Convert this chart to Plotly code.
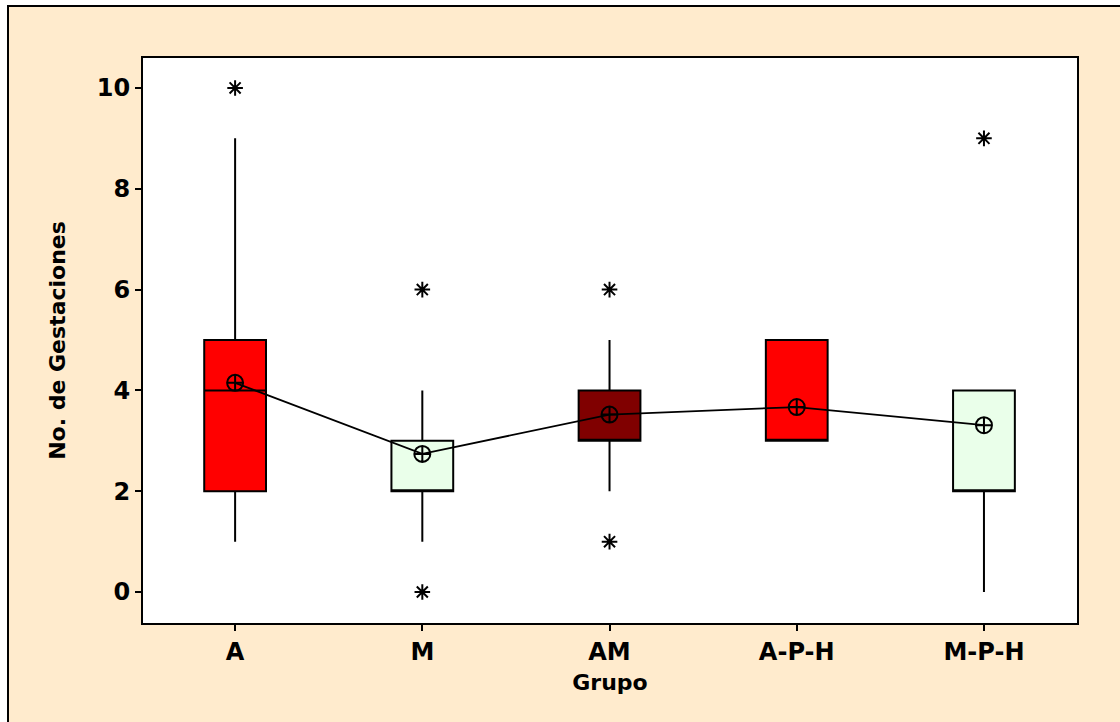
import plotly.graph_objects as go

categories = ["A", "M", "AM", "A-P-H", "M-P-H"]
q1 = [2, 2, 3, 3, 2]
median = [4, 2, 3, 3, 2]
q3 = [5, 3, 4, 5, 4]
lower_whisker = [1, 1, 2, 3, 0]
upper_whisker = [9, 4, 5, 5, 4]
means = [4.15, 2.74, 3.52, 3.67, 3.31]
fill_colors = ["#FF0000", "#EAFFEA", "#800000", "#FF0000", "#EAFFEA"]
outlier_cats = ["A", "M", "M", "AM", "AM", "M-P-H"]
outlier_vals = [10, 6, 0, 6, 1, 9]
y_ticks = [0, 2, 4, 6, 8, 10]

FONT = "DejaVu Sans"

fig = go.Figure()

for i, c in enumerate(categories):
    fig.add_trace(go.Box(
        x=[c],
        q1=[q1[i]], median=[median[i]], q3=[q3[i]],
        lowerfence=[lower_whisker[i]], upperfence=[upper_whisker[i]],
        fillcolor=fill_colors[i],
        line=dict(color="black", width=2),
        whiskerwidth=0,
        width=0.33,
        boxpoints=False,
        showlegend=False,
        hoverinfo="skip",
    ))

fig.add_trace(go.Scatter(
    x=categories, y=means, mode="lines+markers",
    line=dict(color="black", width=1.8),
    marker=dict(symbol="circle-cross-open", size=16, color="black",
                line=dict(width=2, color="black")),
    showlegend=False,
))

fig.add_trace(go.Scatter(
    x=outlier_cats, y=outlier_vals, mode="markers",
    marker=dict(symbol="asterisk-open", size=13, color="black",
                line=dict(width=2, color="black")),
    showlegend=False,
))

W, H = 1120, 722
L, R, T, B = 143, 43, 58, 99
pw, ph = W - L - R, H - T - B

def px_x(p):
    return (p - L) / pw

def px_y(p):
    return (H - B - p) / ph

# outer beige frame
fig.add_shape(type="rect", xref="paper", yref="paper",
              x0=px_x(8), x1=px_x(1140), y0=px_y(740), y1=px_y(6),
              fillcolor="#FFEBCD", line=dict(color="black", width=2),
              layer="below")
# white plot area
fig.add_shape(type="rect", xref="paper", yref="paper",
              x0=0, x1=1, y0=0, y1=1,
              fillcolor="white", line=dict(width=0),
              layer="below")

fig.update_layout(
    width=W, height=H,
    margin=dict(l=L, r=R, t=T, b=B),
    paper_bgcolor="white",
    plot_bgcolor="white",
    boxmode="overlay",
    font=dict(family=FONT, color="black"),
)

fig.update_xaxes(
    type="category",
    categoryorder="array", categoryarray=categories,
    range=[-0.492, 4.497],
    showline=True, linecolor="black", linewidth=2, mirror=True,
    ticks="outside", ticklen=6, tickwidth=1.5, tickcolor="black",
    showgrid=False, zeroline=False,
    tickfont=dict(family=FONT, size=24, color="black", weight="bold"),
    title=dict(text="<b>Grupo</b>", font=dict(family=FONT, size=22, color="black"),
               standoff=10),
)
fig.update_yaxes(
    range=[-0.614, 10.594],
    tickvals=y_ticks,
    showline=True, linecolor="black", linewidth=2, mirror=True,
    ticks="outside", ticklen=6, tickwidth=1.5, tickcolor="black",
    showgrid=False, zeroline=False,
    tickfont=dict(family=FONT, size=24, color="black", weight="bold"),
    title=dict(text="<b>No. de Gestaciones</b>", font=dict(family=FONT, size=22, color="black"),
               standoff=25),
)

fig.write_html("out.html", config={"displayModeBar": False},
               post_script="document.body.style.margin='0px';")
